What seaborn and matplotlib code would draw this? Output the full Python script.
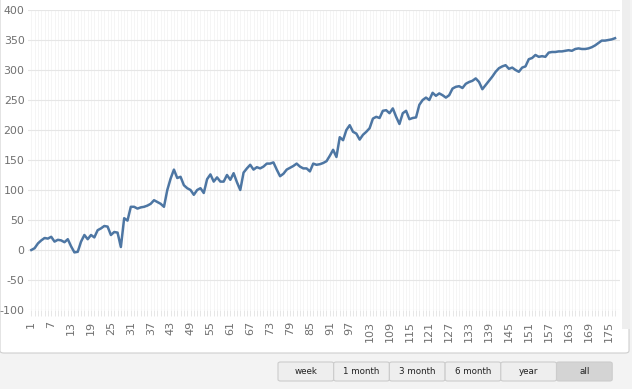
import numpy as np
import pandas as pd
import matplotlib
matplotlib.use("Agg")
import matplotlib.pyplot as plt
from matplotlib.patches import FancyBboxPatch, Rectangle
import seaborn as sns

# =========================
# DATA
# =========================
values = [
    0, 3, 11, 16, 20, 19, 22, 14, 17, 16,
    13, 18, 6, -4, -3, 14, 25, 18, 25, 21,
    33, 36, 40, 39, 25, 30, 29, 5, 53, 49,
    72, 72, 69, 71, 72, 74, 77, 83, 80, 77,
    72, 100, 119, 134, 120, 122, 108, 103, 100, 92,
    100, 103, 95, 118, 126, 114, 121, 114, 114, 125,
    117, 128, 113, 100, 129, 136, 142, 134, 138, 136,
    139, 144, 144, 146, 134, 123, 127, 134, 137, 140,
    144, 139, 136, 136, 131, 144, 142, 143, 145, 148,
    157, 167, 155, 188, 183, 200, 208, 197, 194, 184,
    192, 197, 203, 219, 222, 220, 232, 233, 228, 236,
    222, 210, 228, 232, 218, 220, 221, 242, 250, 254,
    250, 262, 257, 261, 258, 254, 258, 269, 272, 273,
    270, 277, 280, 282, 286, 280, 268, 275, 282, 289,
    297, 303, 306, 308, 302, 304, 300, 297, 304, 306,
    318, 320, 325, 322, 323, 322, 329, 330, 330, 331,
    331, 332, 333, 332, 335, 336, 335, 335, 336, 338,
    341, 345, 349, 349, 350, 351, 353,
]
points = list(range(1, len(values) + 1))
x_ticks = list(range(1, len(values) + 1, 6))
y_ticks = [-100, -50, 0, 50, 100, 150, 200, 250, 300, 350, 400]
buttons = ["week", "1 month", "3 month", "6 month", "year", "all"]

df = pd.DataFrame({"point": points, "value": values})

plt.rcParams["axes.unicode_minus"] = False

# =========================
# FIGURE
# =========================
W, H = 632, 389
fig = plt.figure(figsize=(W / 100, H / 100), dpi=100)
fig.patch.set_facecolor("#f3f3f3")

# white panel behind chart
panel = FancyBboxPatch((0, 36 / H), 629 / W, 1.2, boxstyle="round,pad=0,rounding_size=0.006",
                       transform=fig.transFigure, facecolor="white", edgecolor="#cfcfcf",
                       linewidth=0.8, zorder=-2)
fig.patches.append(panel)
fig.patches.append(Rectangle((622 / W, 60 / H), 8 / W, 1, transform=fig.transFigure,
                             facecolor="#eeeeee", edgecolor="none", zorder=-1))

ax = fig.add_axes([28 / W, 1 - 310 / H, (620 - 28) / W, 300 / H])
ax.set_zorder(5)
ax.patch.set_alpha(0)

sns.lineplot(data=df, x="point", y="value", ax=ax, color="#4d76a3", linewidth=1.8,
             zorder=3)

ax.set_xlim(0, 178.5)
ax.set_ylim(-100, 400)
ax.set_xticks(x_ticks)
ax.set_xticks(points, minor=True)
ax.set_yticks(y_ticks)
ax.set_xlabel("")
ax.set_ylabel("")

ax.grid(which="major", axis="y", color="#e6e6e6", linewidth=0.8)
ax.grid(which="minor", axis="x", color="#f4f4f4", linewidth=0.6)
ax.grid(which="major", axis="x", color="#f4f4f4", linewidth=0.6)
ax.set_axisbelow(True)

for s in ax.spines.values():
    s.set_visible(False)

ax.tick_params(axis="y", length=0, labelsize=7.9, labelcolor="#707070", pad=2.5)
ax.tick_params(axis="x", which="major", length=4, color="#e3e3e3", width=0.6,
               labelsize=8, labelcolor="#707070", labelrotation=90, pad=4)
ax.tick_params(axis="x", which="minor", length=4, color="#e3e3e3", width=0.6)

# =========================
# RANGE BUTTONS
# =========================
bx0, bw = 278, 55.7
by0, bh = 362, 19
for i, name in enumerate(buttons):
    left = bx0 + i * bw
    face = "#d4d4d4" if name == "all" else "#eeeeee"
    btn = FancyBboxPatch((left / W, 1 - (by0 + bh) / H), bw / W, bh / H,
                         boxstyle="round,pad=0,rounding_size=0.004",
                         transform=fig.transFigure, facecolor=face, edgecolor="#cccccc",
                         linewidth=0.8, zorder=2)
    fig.patches.append(btn)
    fig.text((left + bw / 2) / W, 1 - (by0 + bh / 2 + 0.5) / H, name, ha="center",
             va="center", fontsize=6.3, color="#222222")

plt.savefig("out.png", dpi=100, facecolor=fig.get_facecolor())
